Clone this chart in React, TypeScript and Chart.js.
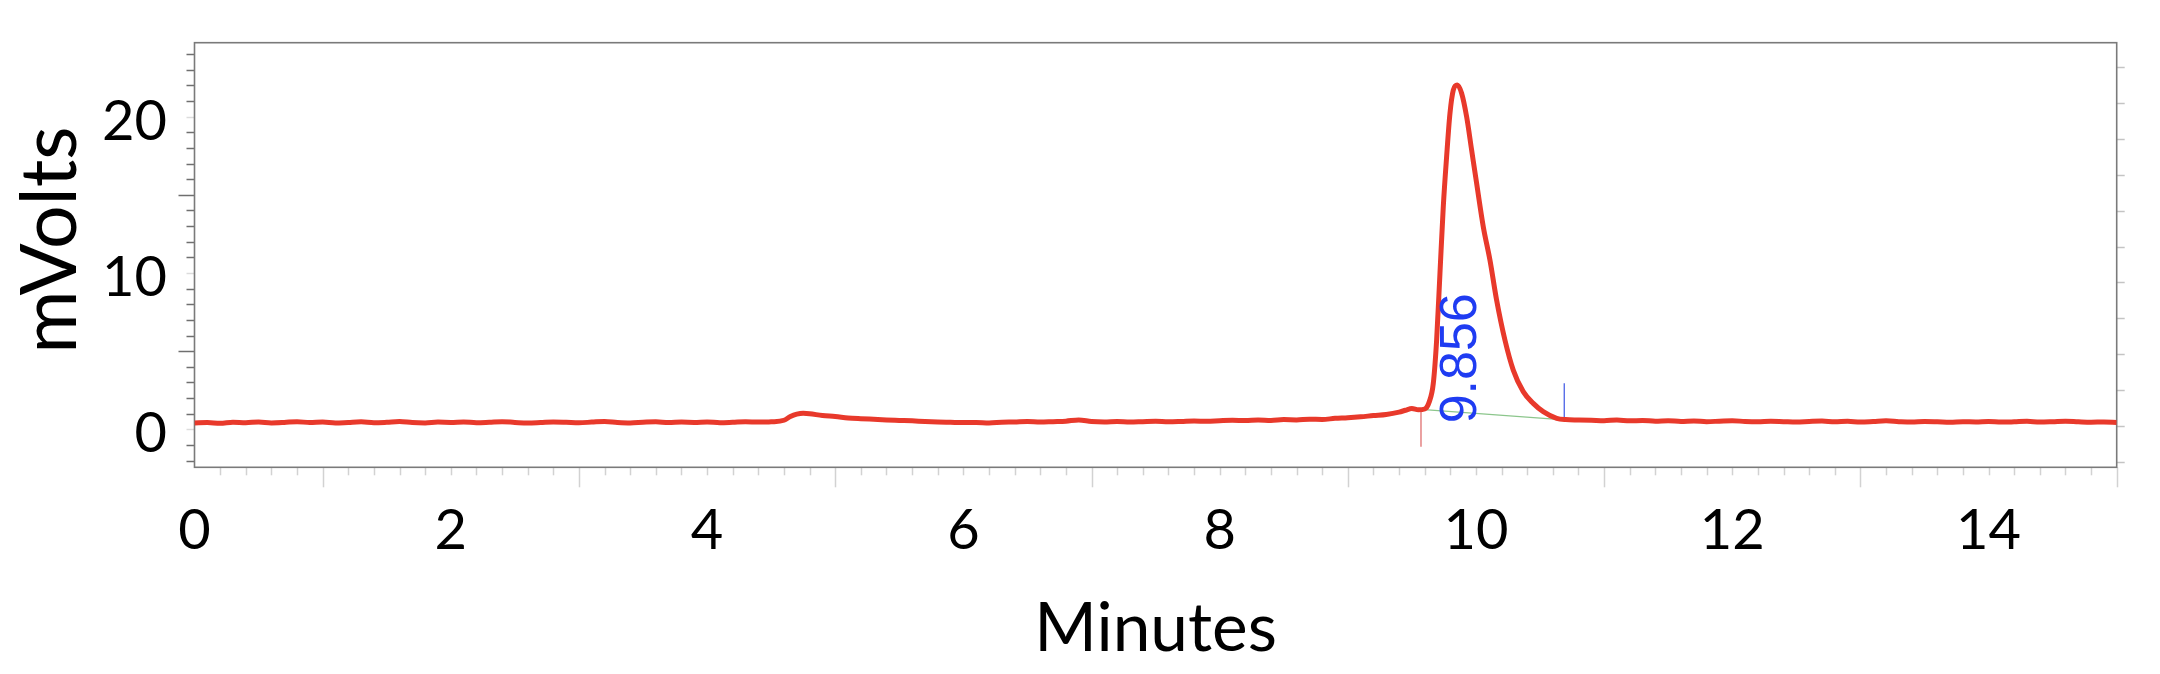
import React, { useEffect, useRef } from "react";
import { Chart, registerables } from "chart.js";

Chart.register(...registerables);

// ---- data (minutes, mV) ----
const times = [
  0.0, 0.1, 0.2, 0.3, 0.4, 0.5, 0.6, 0.7, 0.8, 0.9,
  1.0, 1.1, 1.2, 1.3, 1.4, 1.5, 1.6, 1.7, 1.8, 1.9,
  2.0, 2.1, 2.2, 2.3, 2.4, 2.5, 2.6, 2.7, 2.8, 2.9,
  3.0, 3.1, 3.2, 3.3, 3.4, 3.5, 3.6, 3.7, 3.8, 3.9,
  4.0, 4.1, 4.2, 4.3, 4.4, 4.5,
  4.6, 4.65, 4.7, 4.75, 4.8, 4.9, 5.0, 5.1, 5.2, 5.3, 5.4, 5.5, 5.6, 5.7, 5.8, 5.9, 6.0,
  6.1, 6.2, 6.3, 6.4, 6.5, 6.6, 6.7, 6.8, 6.9, 7.0,
  7.1, 7.2, 7.3, 7.4, 7.5, 7.6, 7.7, 7.8, 7.9, 8.0,
  8.1, 8.2, 8.3, 8.4, 8.5, 8.6, 8.7, 8.8, 8.9, 9.0,
  9.1, 9.2, 9.3, 9.4, 9.45, 9.5, 9.55, 9.6,
  9.636, 9.667, 9.693, 9.719, 9.745, 9.771, 9.797, 9.823, 9.854, 9.888,
  9.927, 9.966, 10.005, 10.057, 10.109, 10.161, 10.226, 10.291, 10.369, 10.447,
  10.525, 10.63, 10.7, 10.8,
  10.9, 11.0, 11.1, 11.2, 11.3, 11.4, 11.5, 11.6, 11.7, 11.8, 11.9, 12.0,
  12.1, 12.2, 12.3, 12.4, 12.5, 12.6, 12.7, 12.8, 12.9, 13.0,
  13.1, 13.2, 13.3, 13.4, 13.5, 13.6, 13.7, 13.8, 13.9, 14.0,
  14.1, 14.2, 14.3, 14.4, 14.5, 14.6, 14.7, 14.8, 14.9, 15.0,
];

const mvolts = [
  0.40, 0.43, 0.38, 0.45, 0.42, 0.47, 0.41, 0.44, 0.49, 0.43,
  0.46, 0.40, 0.44, 0.48, 0.42, 0.45, 0.50, 0.43, 0.41, 0.46,
  0.44, 0.47, 0.42, 0.45, 0.49, 0.44, 0.40, 0.43, 0.47, 0.45,
  0.42, 0.46, 0.50, 0.44, 0.41, 0.45, 0.48, 0.43, 0.46, 0.44,
  0.47, 0.42, 0.45, 0.49, 0.46, 0.48,
  0.58, 0.82, 0.97, 1.03, 1.00, 0.88, 0.82, 0.73, 0.68, 0.64, 0.60, 0.57, 0.54, 0.50, 0.47, 0.45, 0.43,
  0.44, 0.41, 0.45, 0.47, 0.50, 0.46, 0.49, 0.52, 0.60, 0.50,
  0.47, 0.50, 0.46, 0.49, 0.52, 0.48, 0.50, 0.53, 0.51, 0.55,
  0.58, 0.56, 0.60, 0.57, 0.62, 0.60, 0.65, 0.63, 0.70, 0.74,
  0.80, 0.88, 0.95, 1.10, 1.22, 1.33, 1.25, 1.30,
  1.77, 2.94, 5.71, 9.98, 14.24, 17.44, 20.2, 21.7, 22.03, 21.5,
  20.0, 17.87, 15.74, 12.96, 10.83, 8.27, 5.71, 3.79, 2.41, 1.66,
  1.13, 0.70, 0.62, 0.60,
  0.58, 0.55, 0.60, 0.54, 0.57, 0.52, 0.55, 0.50, 0.53, 0.49, 0.52, 0.55,
  0.50, 0.48, 0.52, 0.49, 0.46, 0.50, 0.53, 0.48, 0.51, 0.47,
  0.50, 0.54, 0.49, 0.46, 0.50, 0.48, 0.45, 0.49, 0.47, 0.50,
  0.46, 0.48, 0.51, 0.47, 0.49, 0.52, 0.48, 0.45, 0.47, 0.44,
];

// axis tick labels
const xTickValues = [0, 2, 4, 6, 8, 10, 12, 14];
const yTickValues = [0, 10, 20];
const xTitle = "Minutes";
const yTitle = "mVolts";

// peak integration marks
const peakLabel = "9.856";
const peakTime = 9.856;
const peakStartTime = 9.571;
const peakEndTime = 10.689;
const peakBaseStart = 1.28;
const peakBaseEnd = 0.6;
const peakStartMarkLow = -1.11;
const peakEndMarkHigh = 2.94;
const peakLabelStart = 0.38;

const FONT = "Lato, 'Open Sans', sans-serif";

const zeroPad = (s: any) => {
  s.paddingTop = 0;
  s.paddingBottom = 0;
  s.paddingLeft = 0;
  s.paddingRight = 0;
};

const axisDecor = {
  id: "axisDecor",
  beforeDatasetsDraw(chart: any) {
    const { ctx, chartArea, scales } = chart;
    const { left, right, top, bottom } = chartArea;
    const x = scales.x;
    const y = scales.y;
    const y2 = scales.y2;
    ctx.save();
    // left ticks
    ctx.lineWidth = 1.5;
    for (let v = Math.ceil(y.min); v <= Math.floor(y.max); v++) {
      const py = Math.round(y.getPixelForValue(v)) + 0.5;
      let len = 8;
      let col = "#6f6f6f";
      if (v % 10 === 0) { col = "#dcdcdc"; len = 8; }
      else if (v % 5 === 0) { len = 16; }
      ctx.strokeStyle = col;
      ctx.beginPath();
      ctx.moveTo(left - len, py);
      ctx.lineTo(left, py);
      ctx.stroke();
    }
    // right ticks
    ctx.strokeStyle = "#c4c4c4";
    for (let v = Math.ceil(y2.min); v <= Math.floor(y2.max); v++) {
      const py = Math.round(y2.getPixelForValue(v)) + 0.5;
      ctx.beginPath();
      ctx.moveTo(right, py);
      ctx.lineTo(right + 8, py);
      ctx.stroke();
    }
    // bottom ticks every 0.2 min
    ctx.strokeStyle = "#d2d2d2";
    for (let k = 1; k <= 75; k++) {
      const t = k / 5;
      const px = Math.round(x.getPixelForValue(t)) + 0.5;
      const isOdd = k % 10 === 5;
      const len = isOdd ? 20 : 8;
      ctx.beginPath();
      ctx.moveTo(px, bottom);
      ctx.lineTo(px, bottom + len);
      ctx.stroke();
    }
    // frame
    ctx.strokeStyle = "#7a7a7a";
    ctx.lineWidth = 1.6;
    ctx.strokeRect(left, top, right - left, bottom - top);
    ctx.restore();
  },
  afterDatasetsDraw(chart: any) {
    const { ctx, scales, chartArea } = chart;
    const x = scales.x;
    const y = scales.y;
    const size = 52;
    ctx.save();
    ctx.font = `${size}px 'Liberation Sans', Arial, sans-serif`;
    ctx.fillStyle = "#1f3cf2";
    ctx.textAlign = "left";
    ctx.textBaseline = "alphabetic";
    ctx.translate(x.getPixelForValue(peakTime) + size * 0.716 / 2, y.getPixelForValue(peakLabelStart));
    ctx.rotate(-Math.PI / 2);
    ctx.fillText(peakLabel, 0, 0);
    ctx.restore();

    // y axis title
    ctx.save();
    ctx.font = `77px ${FONT}`;
    ctx.fillStyle = "#000";
    ctx.textAlign = "center";
    ctx.textBaseline = "alphabetic";
    const cy = (chartArea.top + chartArea.bottom) / 2 - 15;
    ctx.translate(76, cy);
    ctx.rotate(-Math.PI / 2);
    ctx.fillText(yTitle, 0, 0);
    ctx.restore();
  },
};

export default function App() {
  const ref = useRef<HTMLCanvasElement | null>(null);
  useEffect(() => {
    if (!ref.current) return;
    const trace = times.map((t, i) => ({ x: t, y: mvolts[i] }));
    const chart = new Chart(ref.current, {
      type: "line",
      data: {
        datasets: [
          {
            data: trace,
            borderColor: "#e8392b",
            borderWidth: 5,
            pointRadius: 0,
            cubicInterpolationMode: "monotone",
            order: 0,
          },
          {
            data: [
              { x: peakStartTime, y: peakBaseStart },
              { x: peakEndTime, y: peakBaseEnd },
            ],
            borderColor: "#8cc68c",
            borderWidth: 1.3,
            pointRadius: 0,
            order: 1,
          },
          {
            data: [
              { x: peakStartTime, y: peakBaseStart },
              { x: peakStartTime, y: peakStartMarkLow },
            ],
            borderColor: "#e07070",
            borderWidth: 1.3,
            pointRadius: 0,
            order: 1,
          },
          {
            data: [
              { x: peakEndTime, y: peakBaseEnd },
              { x: peakEndTime, y: peakEndMarkHigh },
            ],
            borderColor: "#4a62e6",
            borderWidth: 1.3,
            pointRadius: 0,
            order: 1,
          },
        ],
      },
      options: {
        animation: false,
        responsive: false,
        maintainAspectRatio: false,
        layout: { padding: { top: 42.7, left: 0, right: 0, bottom: 0 } },
        plugins: { legend: { display: false }, tooltip: { enabled: false } },
        scales: {
          x: {
            type: "linear",
            position: "bottom",
            min: 0,
            max: 15,
            afterBuildTicks: (s: any) => {
              s.ticks = xTickValues.map((v) => ({ value: v }));
            },
            afterFit: (s: any) => {
              s.height = 206.7;
              zeroPad(s);
            },
            ticks: {
              font: { family: FONT, size: 56 },
              color: "#000",
              padding: 30.4,
              autoSkip: false,
              maxRotation: 0,
            },
            grid: { display: false, drawTicks: false },
            border: { display: false },
            title: {
              display: true,
              text: xTitle,
              color: "#000",
              font: { family: FONT, size: 67.5 },
              padding: { top: 0, bottom: 4 },
            },
          },
          y: {
            type: "linear",
            position: "left",
            min: -2.43,
            max: 24.73,
            afterBuildTicks: (s: any) => {
              s.ticks = yTickValues.map((v) => ({ value: v }));
            },
            afterFit: (s: any) => {
              s.width = 194.5;
              zeroPad(s);
            },
            ticks: {
              font: { family: FONT, size: 56 },
              color: "#000",
              padding: 27.5,
              labelOffset: 5,
              autoSkip: false,
            },
            grid: { display: false, drawTicks: false },
            border: { display: false },
            title: { display: false },
          },
          y2: {
            type: "linear",
            position: "right",
            min: -0.157,
            max: 11.69,
            ticks: { display: false, stepSize: 1 },
            grid: { display: false, drawTicks: false },
            border: { display: false },
            afterFit: (s: any) => {
              s.width = 43.3;
              zeroPad(s);
            },
          },
        },
      },
      plugins: [axisDecor],
    });
    return () => chart.destroy();
  }, []);

  return (
    <div style={{ position: "fixed", left: 0, top: 0, width: 2160, height: 674, background: "#fff" }}>
      <canvas ref={ref} width={2160} height={674} style={{ display: "block", width: 2160, height: 674 }} />
    </div>
  );
}
